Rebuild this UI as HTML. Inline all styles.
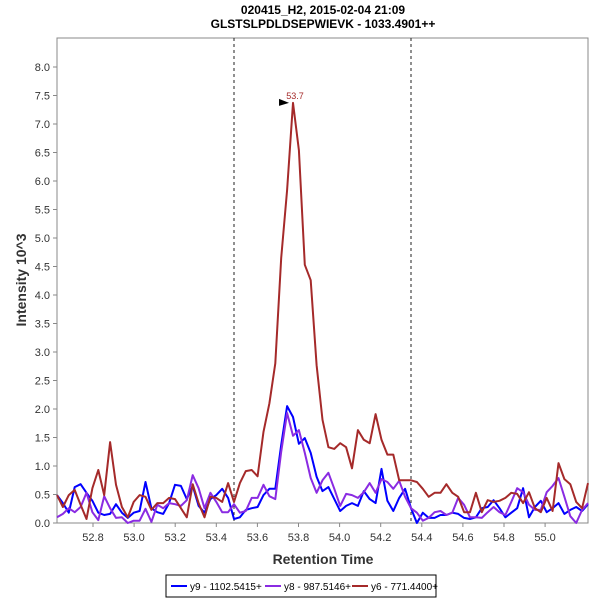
<!DOCTYPE html>
<html><head><meta charset="utf-8"><style>
body{margin:0;background:#fff;font-family:"Liberation Sans",sans-serif}
</style></head><body>
<svg id="chart" width="600" height="600" xmlns="http://www.w3.org/2000/svg" font-family="Liberation Sans, sans-serif">
<text x="323" y="14" text-anchor="middle" font-size="12" font-weight="bold">020415_H2, 2015-02-04 21:09</text>
<text x="323" y="28" text-anchor="middle" font-size="12" font-weight="bold">GLSTSLPDLDSEPWIEVK - 1033.4901++</text>
<rect x="57" y="38" width="531" height="485" fill="#fff" stroke="#888" stroke-width="1"/>
<g id="yticks"></g><g id="xticks"></g>
<line x1="234" y1="38" x2="234" y2="523" stroke="#222" stroke-dasharray="3,3"/>
<line x1="411" y1="38" x2="411" y2="523" stroke="#222" stroke-dasharray="3,3"/>
<g id="series"></g>
<text transform="translate(26,280) rotate(-90)" text-anchor="middle" font-size="14" font-weight="bold" fill="#333">Intensity 10^3</text>
<text x="323" y="564" text-anchor="middle" font-size="14" font-weight="bold" fill="#333">Retention Time</text>
<g>
<rect x="166" y="575" width="270" height="22" fill="#fff" stroke="#000"/>
<line x1="171" y1="586" x2="187" y2="586" stroke="#0000ff" stroke-width="2"/>
<text x="190" y="590" font-size="10">y9 - 1102.5415+</text>
<line x1="265" y1="586" x2="281" y2="586" stroke="#8a2be2" stroke-width="2"/>
<text x="284" y="590" font-size="10">y8 - 987.5146+</text>
<line x1="352" y1="586" x2="368" y2="586" stroke="#a52a2a" stroke-width="2"/>
<text x="371" y="590" font-size="10">y6 - 771.4400+</text>
</g>
</svg>
<script>
const t0 = 52.625, tStep = 0.02871;
const y6 = [0.49,0.28,0.49,0.58,0.32,0.07,0.61,0.93,0.49,1.42,0.67,0.28,0.1,0.37,0.49,0.46,0.23,0.35,0.35,0.44,0.42,0.26,0.1,0.68,0.35,0.1,0.46,0.44,0.37,0.7,0.37,0.7,0.91,0.93,0.82,1.6,2.1,2.8,4.65,5.84,7.37,6.54,4.53,4.26,2.77,1.81,1.33,1.3,1.4,1.33,0.96,1.63,1.46,1.4,1.91,1.46,1.2,1.2,0.75,0.75,0.75,0.72,0.6,0.46,0.53,0.53,0.68,0.53,0.46,0.19,0.19,0.53,0.19,0.4,0.37,0.39,0.44,0.53,0.51,0.35,0.54,0.26,0.19,0.44,0.21,1.05,0.77,0.68,0.37,0.26,0.7];
const y9 = [0.49,0.35,0.18,0.63,0.68,0.53,0.39,0.18,0.14,0.16,0.33,0.18,0.09,0.18,0.21,0.72,0.26,0.19,0.16,0.35,0.67,0.65,0.42,0.65,0.3,0.18,0.42,0.49,0.6,0.44,0.07,0.1,0.23,0.26,0.28,0.49,0.6,0.6,1.37,2.05,1.86,1.39,1.49,1.23,0.81,0.56,0.63,0.42,0.21,0.3,0.35,0.3,0.56,0.42,0.35,0.95,0.39,0.21,0.44,0.6,0.26,0.0,0.18,0.09,0.09,0.14,0.14,0.18,0.16,0.09,0.07,0.1,0.26,0.28,0.4,0.26,0.1,0.18,0.26,0.61,0.1,0.28,0.39,0.19,0.26,0.35,0.16,0.23,0.28,0.21,0.33];
const y8 = [0.1,0.16,0.26,0.19,0.28,0.53,0.19,0.05,0.47,0.26,0.09,0.1,0.0,0.04,0.04,0.25,0.02,0.32,0.26,0.35,0.33,0.3,0.4,0.84,0.61,0.26,0.53,0.37,0.19,0.19,0.33,0.18,0.21,0.44,0.44,0.67,0.47,0.42,1.25,1.93,1.53,1.63,1.23,0.79,0.53,0.75,0.88,0.6,0.3,0.51,0.49,0.44,0.54,0.7,0.53,0.77,0.72,0.6,0.74,0.46,0.26,0.18,0.04,0.09,0.19,0.21,0.14,0.18,0.44,0.32,0.1,0.1,0.09,0.19,0.28,0.19,0.14,0.37,0.61,0.54,0.32,0.23,0.23,0.54,0.65,0.79,0.46,0.12,0.0,0.23,0.35];
const yTicks = [0.0,0.5,1.0,1.5,2.0,2.5,3.0,3.5,4.0,4.5,5.0,5.5,6.0,6.5,7.0,7.5,8.0];
const xTicks = [52.8,53.0,53.2,53.4,53.6,53.8,54.0,54.2,54.4,54.6,54.8,55.0];
const peakLabel = "53.7";
const NS="http://www.w3.org/2000/svg";
function xs(t){return 93+(t-52.8)*205.5;}
function ys(v){return 523-v*57;}
function mk(tag,attrs,parent){const e=document.createElementNS(NS,tag);for(const k in attrs)e.setAttribute(k,attrs[k]);parent.appendChild(e);return e;}
const yg=document.getElementById('yticks');
yTicks.forEach(v=>{
  const l=mk('line',{x1:53,x2:57,y1:ys(v),y2:ys(v),stroke:'#888'},yg);
  
  
  const tx=mk('text',{x:50,y:ys(v)+4,'text-anchor':'end','font-size':11,fill:'#333'},yg);
  
  
  tx.textContent=v.toFixed(1);
});
const xg=document.getElementById('xticks');
xTicks.forEach(v=>{
  const l=mk('line',{x1:xs(v),x2:xs(v),y1:523,y2:527,stroke:'#888'},xg);
  
  
  const tx=mk('text',{x:xs(v),y:541,'text-anchor':'middle','font-size':11,fill:'#333'},xg);
  
  
  tx.textContent=v.toFixed(1);
});
const sg=document.getElementById('series');
[[y9,'#0000ff','series-y9'],[y8,'#8a2be2','series-y8'],[y6,'#a52a2a','series-y6']].forEach(([d,c,n])=>{
  const pts=d.map((v,i)=>xs(t0+i*tStep).toFixed(1)+','+ys(v).toFixed(1)).join(' ');
  const p=mk('polyline',{points:pts,fill:'none',stroke:c,'stroke-width':2,'stroke-linejoin':'round'},sg);
  
  
});
let pi=0;y6.forEach((v,i)=>{if(v>y6[pi])pi=i;});
const px=xs(t0+pi*tStep), py=ys(y6[pi]);
const tri=mk('polygon',{points:`${px-14},${py-4} ${px-4},${py} ${px-14},${py+3}`,fill:'#000'},sg);


const pl=mk('text',{x:px+2,y:py-4,'text-anchor':'middle','font-size':9,fill:'#a52a2a'},sg);


pl.textContent=peakLabel;
</script>
</body></html>
